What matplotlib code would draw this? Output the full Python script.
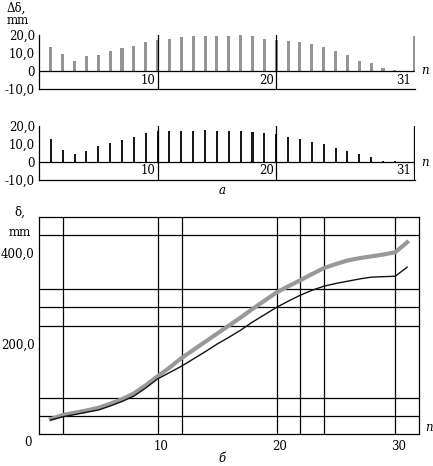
import numpy as np
import matplotlib
matplotlib.use("Agg")
import matplotlib.pyplot as plt
from matplotlib.transforms import ScaledTranslation

plt.rcParams['font.family'] = ['DejaVu Serif']
plt.rcParams['font.size'] = 8.5

# bar data (a): deviation per step n
n = np.arange(1, 32)
dev_grey = [13.5, 9.6, 5.6, 8.3, 8.9, 11.3, 13.0, 14.1, 16.3, 17.2,
            18.0, 19.1, 19.6, 19.6, 19.6, 19.6, 20.2, 19.6, 18.0, 17.2,
            16.7, 16.1, 15.2, 13.3, 11.1, 8.9, 5.6, 4.6, 1.9, 0.7, 19.6]
dev_black = [12.8, 6.7, 4.4, 6.1, 8.9, 10.6, 12.2, 13.9, 16.1, 17.0,
             17.2, 17.2, 17.2, 17.8, 17.2, 17.2, 17.2, 16.7, 16.1, 15.6,
             13.9, 12.8, 11.1, 10.0, 7.8, 6.1, 4.4, 2.8, 0.6, 0.6, 20.0]
bar_ticks = [10, 20, 31]

# curve data (б)
delta_grey = [33, 42, 47, 52, 58, 67, 77, 90, 108, 128,
              147, 168, 186, 204, 222, 240, 258, 277, 295, 313,
              327, 340, 354, 367, 376, 384, 389, 393, 397, 402, 424]
delta_black = [31, 38, 43, 48, 53, 62, 72, 84, 102, 122,
               136, 150, 166, 182, 199, 214, 230, 248, 264, 280,
               294, 307, 318, 327, 333, 338, 343, 347, 348, 349, 369]
grid_x = [2, 10, 12, 20, 22, 24, 30]
grid_y = [40, 80, 240, 280, 320, 440]

W, H = 433, 466
fig = plt.figure(figsize=(W / 100, H / 100), dpi=100)

def frac(x0, y0, x1, y1):
    return [x0 / W, 1 - y1 / H, (x1 - x0) / W, (y1 - y0) / H]

xmax_bar = 31.7
pos = np.where(n == 31, xmax_bar, n)

def bar_panel(rect, vals, color, width, right_spine):
    ax = fig.add_axes(rect)
    ax.bar(pos, vals, width=width, color=color, zorder=2)
    ax.set_xlim(0, xmax_bar)
    ax.set_ylim(-10, 20)
    for s in ['top', 'right']:
        ax.spines[s].set_visible(False)
    ax.spines['left'].set_linewidth(0.9)
    ax.spines['bottom'].set_linewidth(0.9)
    if right_spine:
        ax.axvline(xmax_bar, ymin=0, ymax=1, color='k', lw=1.6)
    ax.axhline(0, color='k', lw=0.9)
    for t in bar_ticks[:-1]:
        ax.axvline(t, color='k', lw=0.9)
    ax.set_xticks([])
    ax.set_yticks([-10, 0, 10, 20])
    ax.set_yticklabels(['-10,0', '0', '10,0', '20,0'])
    ax.tick_params(axis='y', length=0, pad=3)
    for t in bar_ticks:
        xt = t if t != 31 else xmax_bar - 0.2
        ax.text(xt - 0.15, -5, str(t), ha='right', va='center')
    ax.text(xmax_bar + 0.5, 0, 'n', style='italic', ha='left', va='center')
    return ax

ax1 = bar_panel(frac(39, 35, 415, 89), dev_grey, '#959595', 0.26, False)
ax2 = bar_panel(frac(39, 126, 415, 180), dev_black, '#1a1a1a', 0.17, True)

fig.text(7 / W, 1 - 8 / H, 'Δδ,', ha='left', va='center')
fig.text(7 / W, 1 - 20 / H, 'mm', ha='left', va='center')
fig.text(222 / W, 1 - 190 / H, 'а', style='italic', ha='center', va='center')

# bottom chart
ax3 = fig.add_axes(frac(39, 217, 419, 434))
ax3.plot(n, delta_grey, color='#999999', lw=3.0, zorder=3)
ax3.plot(n, delta_black, color='#111111', lw=1.0, zorder=4)
for gx in grid_x:
    ax3.axvline(gx, color='k', lw=0.9, zorder=1)
for gy in grid_y:
    ax3.axhline(gy, color='k', lw=0.9, zorder=1)
ax3.set_xlim(0, 32)
ax3.set_ylim(0, 480)
for s in ax3.spines.values():
    s.set_linewidth(0.9)
ax3.set_xticks([10, 20, 30])
ax3.set_xticklabels(['10', '20', '30'])
ax3.set_yticks([200, 400])
ax3.set_yticklabels(['200,0', '400,0'])
ax3.tick_params(axis='y', length=0, pad=3)
ax3.tick_params(axis='x', length=0, pad=4)
shift = ScaledTranslation(3 / 100, 0, fig.dpi_scale_trans)
for lab in ax3.get_xticklabels():
    lab.set_transform(lab.get_transform() + shift)
fig.text(28 / W, 1 - 443 / H, '0', ha='center', va='center')
ax3.text(32.5, 0, 'n', style='italic', ha='left', va='bottom')
fig.text(14 / W, 1 - 212 / H, 'δ,', ha='left', va='center')
fig.text(9 / W, 1 - 233 / H, 'mm', ha='left', va='center')
fig.text(222 / W, 1 - 458 / H, 'б', style='italic', ha='center', va='center')

fig.savefig('out.png', dpi=100)
